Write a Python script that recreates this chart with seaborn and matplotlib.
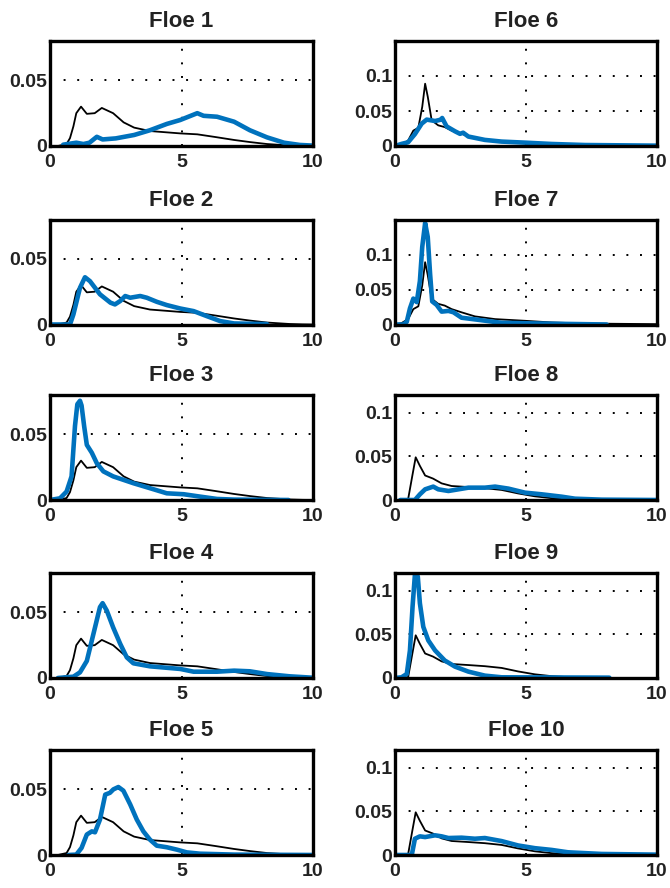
import pandas as pd
import matplotlib
matplotlib.use("Agg")
import matplotlib.pyplot as plt
import seaborn as sns

# === DATA ===
# reference curve, left column (Floe 1-5)
ref_left_x = [0.3, 0.63, 0.76, 0.89, 1.0, 1.18, 1.4, 1.7, 1.97, 2.4, 2.8, 3.2, 3.8, 4.95, 5.6, 6.3, 7.0, 7.6, 8.25, 9.1, 9.6, 10.0]
ref_left_y = [0.0, 0.0015, 0.006, 0.015, 0.025, 0.030, 0.0245, 0.025, 0.029, 0.025, 0.018, 0.014, 0.0114, 0.0096, 0.0089, 0.0068, 0.0046, 0.003, 0.0015, 0.0004, 0.0001, 0.0]

# reference curve, Floe 6-7
ref_a_x = [0.0, 0.25, 0.5, 0.7, 0.89, 1.04, 1.15, 1.25, 1.4, 1.65, 1.9, 2.16, 2.54, 3.05, 3.82, 4.96, 5.98, 7.25, 10.0]
ref_a_y = [0.0, 0.002, 0.0077, 0.022, 0.026, 0.056, 0.089, 0.0705, 0.0367, 0.0295, 0.027, 0.022, 0.0174, 0.0116, 0.0077, 0.0053, 0.0029, 0.0014, 0.0005]

# reference curve, Floe 8-10
ref_b_x = [0.25, 0.5, 0.66, 0.79, 0.95, 1.15, 1.45, 1.78, 2.16, 2.8, 3.43, 4.07, 4.7, 5.34, 5.98, 6.6, 7.4, 8.0]
ref_b_y = [0.0, 0.0008, 0.0275, 0.0488, 0.039, 0.028, 0.0245, 0.019, 0.016, 0.0148, 0.0135, 0.0115, 0.0075, 0.0042, 0.0021, 0.001, 0.0003, 0.0]

floe1_x = [0.5, 1.0, 1.27, 1.5, 1.78, 2.0, 2.5, 3.2, 3.8, 4.44, 4.95, 5.6, 5.84, 6.35, 7.0, 7.6, 8.25, 8.9, 9.5, 10.0]
floe1_y = [0.001, 0.0025, 0.0015, 0.0025, 0.007, 0.005, 0.0058, 0.0084, 0.012, 0.0168, 0.0198, 0.025, 0.023, 0.0223, 0.0185, 0.012, 0.0066, 0.0025, 0.0008, 0.0003]

floe2_x = [0.0, 0.76, 0.89, 1.14, 1.33, 1.52, 1.9, 2.3, 2.47, 2.67, 2.86, 3.05, 3.43, 3.68, 4.06, 4.44, 4.95, 5.46, 5.96, 6.47, 7.0, 8.25]
floe2_y = [0.0, 0.0, 0.0077, 0.028, 0.036, 0.033, 0.023, 0.0166, 0.0153, 0.0179, 0.0217, 0.0204, 0.0217, 0.0204, 0.0173, 0.0148, 0.0122, 0.0102, 0.0064, 0.0026, 0.0008, 0.0003]

floe3_x = [0.0, 0.38, 0.63, 0.82, 0.95, 1.04, 1.14, 1.2, 1.3, 1.4, 1.59, 1.78, 2.03, 2.4, 3.17, 3.8, 4.44, 5.08, 5.7, 6.35, 7.0, 9.07]
floe3_y = [0.0, 0.0013, 0.0064, 0.018, 0.0564, 0.073, 0.0756, 0.072, 0.056, 0.042, 0.036, 0.028, 0.0218, 0.018, 0.0128, 0.009, 0.0051, 0.0044, 0.0026, 0.0008, 0.0003, 0.0]

floe4_x = [0.3, 0.89, 1.14, 1.4, 1.65, 1.9, 2.0, 2.16, 2.4, 2.67, 2.92, 3.17, 3.8, 4.95, 5.46, 6.35, 7.0, 7.6, 8.25, 9.1, 10.0]
floe4_y = [0.0, 0.001, 0.0043, 0.013, 0.0335, 0.054, 0.057, 0.0513, 0.0386, 0.026, 0.0157, 0.0112, 0.0089, 0.0069, 0.0048, 0.0048, 0.0056, 0.0051, 0.003, 0.0013, 0.0002]

floe5_x = [0.7, 1.0, 1.2, 1.4, 1.59, 1.71, 1.9, 2.1, 2.28, 2.41, 2.6, 2.79, 3.05, 3.3, 3.55, 3.8, 4.06, 4.44, 4.82, 5.2, 5.7, 7.0, 10.0]
floe5_y = [0.0, 0.0003, 0.0054, 0.0156, 0.018, 0.0173, 0.027, 0.046, 0.0474, 0.05, 0.0518, 0.049, 0.0385, 0.027, 0.018, 0.0117, 0.0071, 0.0059, 0.0041, 0.002, 0.001, 0.0003, 0.0]

floe6_x = [0.0, 0.25, 0.5, 0.76, 1.02, 1.21, 1.53, 1.76, 1.8, 1.97, 2.29, 2.48, 2.6, 2.8, 3.43, 4.07, 4.96, 5.98, 7.25, 10.0]
floe6_y = [0.0, 0.003, 0.0053, 0.017, 0.032, 0.0377, 0.0357, 0.0377, 0.04, 0.028, 0.021, 0.0174, 0.019, 0.0135, 0.0087, 0.0063, 0.0048, 0.0029, 0.0014, 0.0005]

floe7_x = [0.0, 0.32, 0.45, 0.57, 0.7, 0.83, 0.95, 1.04, 1.15, 1.25, 1.34, 1.42, 1.59, 1.78, 2.04, 2.23, 2.54, 3.05, 4.07, 5.34, 8.08]
floe7_y = [0.0, 0.0, 0.0039, 0.023, 0.037, 0.032, 0.062, 0.111, 0.145, 0.125, 0.072, 0.033, 0.028, 0.0184, 0.0194, 0.0175, 0.0097, 0.0073, 0.0024, 0.0015, 0.0]

floe8_x = [0.2, 0.76, 0.95, 1.15, 1.46, 1.65, 2.04, 2.42, 2.8, 3.43, 3.82, 4.33, 4.96, 5.6, 6.36, 6.87, 7.89, 10.0]
floe8_y = [0.0, 0.0, 0.0065, 0.0122, 0.0153, 0.0122, 0.0103, 0.0122, 0.0141, 0.0141, 0.0153, 0.013, 0.0084, 0.0065, 0.0038, 0.0015, 0.0004, 0.0]

floe9_x = [0.0, 0.25, 0.45, 0.57, 0.67, 0.76, 0.87, 0.95, 1.08, 1.27, 1.53, 1.9, 2.29, 2.8, 3.43, 4.07, 8.18]
floe9_y = [0.0, 0.0008, 0.0046, 0.0315, 0.0815, 0.118, 0.116, 0.0854, 0.0585, 0.043, 0.0315, 0.02, 0.013, 0.0073, 0.0027, 0.0008, 0.0004]

floe10_x = [0.0, 0.64, 0.76, 0.95, 1.15, 1.53, 1.78, 2.04, 2.54, 3.05, 3.43, 4.07, 4.7, 5.34, 5.98, 6.6, 7.89, 10.0]
floe10_y = [0.0, 0.0, 0.0186, 0.0213, 0.0205, 0.0225, 0.0213, 0.0194, 0.0198, 0.0186, 0.0194, 0.0159, 0.0109, 0.0078, 0.0058, 0.0031, 0.0012, 0.0004]

titles = ["Floe %d" % i for i in range(1, 11)]
floes_x = [floe1_x, floe2_x, floe3_x, floe4_x, floe5_x, floe6_x, floe7_x, floe8_x, floe9_x, floe10_x]
floes_y = [floe1_y, floe2_y, floe3_y, floe4_y, floe5_y, floe6_y, floe7_y, floe8_y, floe9_y, floe10_y]
refs = [(ref_left_x, ref_left_y)] * 5 + [(ref_a_x, ref_a_y)] * 2 + [(ref_b_x, ref_b_y)] * 3
ylims = [0.08] * 5 + [0.15, 0.15, 0.12, 0.12, 0.12]

# === STYLE ===
sns.set_style("white")
plt.rcParams['font.family'] = ['Liberation Sans', 'DejaVu Sans']
plt.rcParams['font.weight'] = 'bold'

W, H = 670, 888
fig = plt.figure(figsize=(W / 100, H / 100), dpi=100)

col_left = [50, 395]
col_width = [263, 262]
row_tops = [41, 219.5, 395, 573, 750]
ax_h = 105
blue = "#0072BD"
dots = (0, (1, 6))

for i in range(10):
    col = i // 5
    row = i % 5
    rect = [col_left[col] / W, 1 - (row_tops[row] + ax_h) / H, col_width[col] / W, ax_h / H]
    ax = fig.add_axes(rect)

    rx, ry = refs[i]
    sns.lineplot(x=rx, y=ry, ax=ax, color="black", linewidth=1.3, sort=False, estimator=None)
    sns.lineplot(x=floes_x[i], y=floes_y[i], ax=ax, color=blue, linewidth=3.3, sort=False, estimator=None)

    ax.set_xlim(0, 10)
    ax.set_ylim(0, ylims[i])
    ax.set_xticks([0, 5, 10])
    ax.set_xticklabels(["0", "5", "10"])
    if col == 0:
        yt = [0, 0.05]
        ax.set_yticks(yt)
        ax.set_yticklabels(["0", "0.05"])
    else:
        yt = [0, 0.05, 0.1]
        ax.set_yticks(yt)
        ax.set_yticklabels(["0", "0.05", "0.1"])

    # dotted grid like the original
    for y in yt[1:]:
        ax.axhline(y, color="black", linestyle=dots, linewidth=1.4, zorder=0)
    ax.axvline(5, color="black", linestyle=dots, linewidth=1.4, zorder=0)

    for s in ax.spines.values():
        s.set_linewidth(2.4)
        s.set_color("black")
    ax.tick_params(axis="both", direction="in", length=0, labelsize=14, pad=2, labelcolor="#222222")
    ax.tick_params(axis="x", pad=6)
    for lab in ax.get_xticklabels() + ax.get_yticklabels():
        lab.set_fontweight("bold")
    ax.set_title(titles[i], fontsize=16, fontweight="bold", pad=10, color="#222222")
    ax.set_xlabel("")
    ax.set_ylabel("")

plt.savefig("out.png", dpi=100)
